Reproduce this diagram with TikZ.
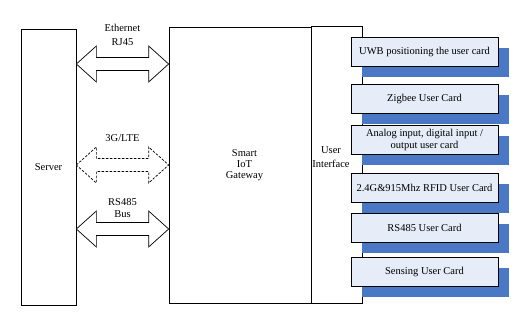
\documentclass[tikz,border=0pt]{standalone}
\usepackage{fontspec}
\setmainfont{Liberation Serif}
\usetikzlibrary{calc,positioning}
\definecolor{cardfill}{RGB}{230,237,248}
\definecolor{cardshade}{RGB}{74,120,196}

\begin{document}
\begin{tikzpicture}[x=1pt, y=-1pt, font=\fontsize{10.5}{12}\selectfont]
    \tikzstyle{block} = [draw, line width=0.7pt, fill=white, inner sep=0pt, align=center];
    \tikzstyle{card} = [draw, line width=0.7pt, fill=cardfill, minimum width=147pt, minimum height=29pt, inner sep=1pt, align=center];
    \tikzstyle{cardback} = [fill=cardshade, draw=none];
    \tikzstyle{bus} = [draw, line width=0.7pt, fill=white, line join=miter];
    \tikzstyle{wired} = [solid];
    \tikzstyle{wireless} = [dash pattern=on 2.5pt off 1.5pt];
    \tikzstyle{buslabel} = [align=center, inner sep=0pt];

    \useasboundingbox (0,0) rectangle (515,312);

    % server, gateway and its user interface strip
    \node[block, minimum width=55pt, minimum height=276pt](srv) at (48.5,167) {Server};
    \node[block, minimum width=151pt, minimum height=276pt, font=\fontsize{10.5}{11}\selectfont](gw) at (244.5,165) {Smart\\IoT\\Gateway};
    \node[block, minimum width=51pt, minimum height=277pt](ui) at (336.5,164.5) {};
    \node[buslabel, font=\fontsize{10.5}{14}\selectfont](uitxt) at (331,157) {User\\Interface};

    % links between server and gateway
    \coordinate (eth) at (0,64);
    \coordinate (cell) at (0,165);
    \coordinate (rs) at (0,229);

    \foreach \c/\s in {eth/wired, cell/wireless, rs/wired}
        \draw[bus, \s]
            (srv.east |- \c) -- ($(srv.east |- \c)+(20,-18)$) -- ($(srv.east |- \c)+(20,-6.5)$)
            -- ($(gw.west |- \c)+(-20,-6.5)$) -- ($(gw.west |- \c)+(-20,-18)$) -- (gw.west |- \c)
            -- ($(gw.west |- \c)+(-20,18)$) -- ($(gw.west |- \c)+(-20,6.5)$)
            -- ($(srv.east |- \c)+(20,6.5)$) -- ($(srv.east |- \c)+(20,18)$) -- cycle;

    \node[buslabel, font=\fontsize{10.5}{14}\selectfont](ethtxt) at (122.5,35) {Ethernet\\RJ45};
    \node[buslabel](celltxt) at (122.5,138) {3G/LTE};
    \node[buslabel](rstxt) at (122.5,208) {RS485\\Bus};

    % user cards, each with a block of colour behind it
    \foreach \y/\txt [count=\i] in {51.5/UWB positioning the user card, 98.5/Zigbee User Card,
            139.5/{Analog input, digital input /\\output user card}, 187.5/2.4G\&915Mhz RFID User Card,
            227.5/RS485 User Card, 271.5/Sensing User Card}
    {
        \fill[cardback] (362,\y-3.5) rectangle (509,\y+25.5);
        \node[card](c\i) at (424.5,\y) {\txt};
    }
\end{tikzpicture}
\end{document}
